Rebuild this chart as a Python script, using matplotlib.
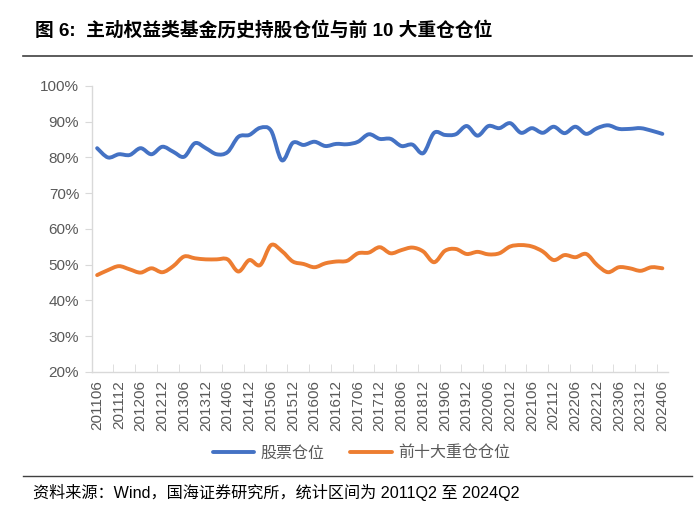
import numpy as np
import matplotlib.pyplot as plt
from matplotlib.path import Path
from matplotlib.patches import PathPatch
from matplotlib.lines import Line2D

plt.rcParams['font.family'] = ['Liberation Sans', 'Noto Sans CJK SC', 'DejaVu Sans']

# quarterly periods 2011Q2 .. 2024Q2
quarters = [f'{y}{m}' for y in range(2011, 2025) for m in ('03', '06', '09', '12')]
quarters = quarters[quarters.index('201106'):quarters.index('202406') + 1]

# stock position (%)
stock_pos = [82.6, 80.0, 80.9, 80.7, 82.6, 80.9, 83.0, 81.6, 80.2, 84.0,
             82.6, 80.9, 81.5, 85.8, 86.3, 88.3, 87.5, 79.2, 84.1, 83.5,
             84.4, 83.2, 83.8, 83.7, 84.4, 86.5, 85.2, 85.2, 83.2, 83.6,
             81.2, 86.9, 86.3, 86.5, 88.8, 86.1, 88.8, 88.2, 89.6, 86.9,
             88.2, 86.9, 88.6, 86.8, 88.6, 86.6, 88.2, 89.0, 88.0, 88.0,
             88.2, 87.5, 86.6]
# top-10 holdings position (%)
top10_pos = [47.1, 48.5, 49.6, 48.7, 47.8, 49.0, 47.9, 49.6, 52.3, 51.8,
             51.5, 51.5, 51.5, 48.1, 51.3, 49.9, 55.5, 53.8, 50.9, 50.2,
             49.3, 50.4, 50.9, 51.1, 53.2, 53.4, 54.9, 53.2, 54.1, 54.8,
             53.7, 50.7, 53.9, 54.4, 53.0, 53.6, 52.9, 53.2, 55.1, 55.5,
             55.1, 53.7, 51.3, 52.7, 52.1, 53.0, 49.9, 47.9, 49.3, 49.0,
             48.3, 49.3, 49.0]

names = ['股票仓位', '前十大重仓仓位']
colors = ['#4472C4', '#ED7D31']
title = '图 6:  主动权益类基金历史持股仓位与前 10 大重仓仓位'
source = '资料来源：Wind，国海证券研究所，统计区间为 2011Q2 至 2024Q2'

grey = '#595959'
x = np.arange(len(quarters))


def smooth_path(xs, ys):
    # Excel-like smoothed line: cubic Bezier segments through every point
    p = np.column_stack([xs, ys])
    n = len(p)
    verts = [p[0]]
    codes = [Path.MOVETO]
    for i in range(n - 1):
        p0 = p[i - 1] if i > 0 else p[i]
        p3 = p[i + 2] if i + 2 < n else p[i + 1]
        c1 = p[i] + (p[i + 1] - p0) / 6
        c2 = p[i + 1] - (p3 - p[i]) / 6
        verts += [c1, c2, p[i + 1]]
        codes += [Path.CURVE4] * 3
    return Path(verts, codes)


fig = plt.figure(figsize=(7, 5.13), dpi=100)
ax = fig.add_axes([0.131, 0.2749, 0.823, 0.5575])

handles = []
for vals, c, name in zip([stock_pos, top10_pos], colors, names):
    ax.add_patch(PathPatch(smooth_path(x, np.array(vals) / 100), fill=False,
                           edgecolor=c, lw=2.8, joinstyle='round', capstyle='round'))
    handles.append(Line2D([], [], color=c, lw=2.8, solid_capstyle='round'))

ax.set_xlim(-0.5, len(quarters) - 0.5)
ax.set_ylim(0.2, 1.0)
ax.set_yticks(np.arange(0.2, 1.01, 0.1))
ax.set_yticklabels([f'{v}%' for v in range(20, 101, 10)])

ax.set_xticks(x[::2])
ax.set_xticklabels(quarters[::2], rotation=90)
ax.set_xticks(np.arange(-0.5, len(quarters) - 1, 2), minor=True)
ax.tick_params(axis='x', which='major', length=0, pad=6, labelsize=11, labelcolor=grey)
ax.tick_params(axis='x', which='minor', direction='in', length=6, color='#D9D9D9')
ax.tick_params(axis='y', length=5, color='#D9D9D9', labelsize=11, labelcolor=grey, pad=4)

for s in ('top', 'right'):
    ax.spines[s].set_visible(False)
for s in ('left', 'bottom'):
    ax.spines[s].set_color('#D9D9D9')
    ax.spines[s].set_linewidth(1)

lg = ax.legend(handles, names, loc='center', bbox_to_anchor=(0.516, 0.117),
               bbox_transform=fig.transFigure, ncol=2, frameon=False,
               handlelength=2.6, columnspacing=1.6, handletextpad=0.4,
               prop={'family': ['Noto Sans CJK SC'], 'size': 11.5})
for t in lg.get_texts():
    t.set_color(grey)

fig.text(0.05, 1 - 30 / 513, title, fontsize=13.5, fontweight='bold', va='center', ha='left')
fig.add_artist(Line2D([0.033, 0.989], [1 - 56 / 513] * 2, color='#404040', lw=1.2))
fig.add_artist(Line2D([0.033, 0.989], [1 - 476 / 513] * 2, color='#404040', lw=1.0))
fig.text(0.047, 1 - 492 / 513, source, fontsize=11.6, va='center', ha='left')

fig.savefig('out.png', dpi=100)
